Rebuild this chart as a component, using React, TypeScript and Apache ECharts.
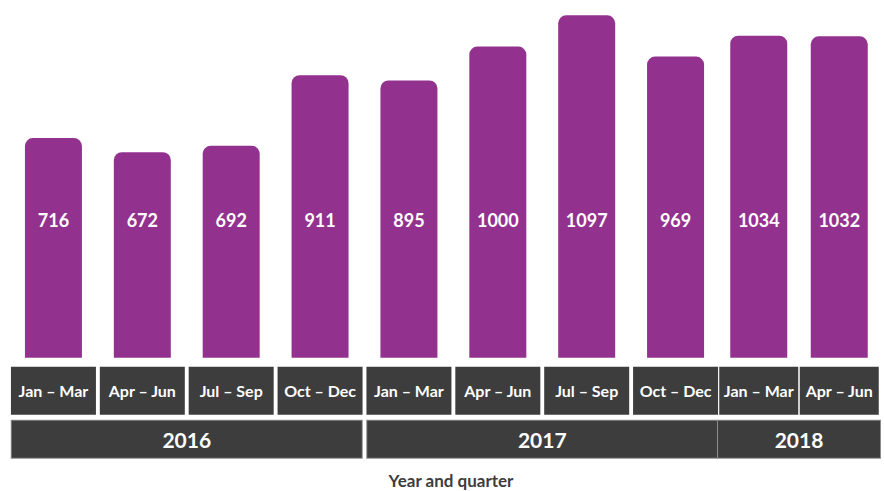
import React, { useEffect, useRef } from "react";
import * as echarts from "echarts";

const quarters1 = ["Jan – Mar", "Apr – Jun", "Jul – Sep", "Oct – Dec", "Jan – Mar", "Apr – Jun", "Jul – Sep", "Oct – Dec"];
const values1 = [716, 672, 692, 911, 895, 1000, 1097, 969];
const years1 = ["2016", "2017"];
const quarters2 = ["Jan – Mar", "Apr – Jun"];
const values2 = [1034, 1032];
const years2 = ["2018"];
const axisTitle = "Year and quarter";

const PURPLE = "#93328e";
const DARK = "#3d3d3d";
const FONT = "Lato, 'Noto Sans', sans-serif";

function quarterAxis(gridIndex: number, data: string[], w: number) {
  return {
    type: "category",
    gridIndex,
    data,
    position: "bottom",
    axisLine: { show: false },
    axisTick: { show: false },
    axisLabel: {
      interval: 0,
      margin: 9,
      color: "#fff",
      fontFamily: FONT,
      fontWeight: "bold",
      fontSize: 16,
      backgroundColor: DARK,
      width: w,
      height: 48,
      lineHeight: 48,
      align: "center",
      verticalAlign: "top",
    },
  };
}

function yearAxis(gridIndex: number, data: string[], w: number) {
  return {
    type: "category",
    gridIndex,
    data,
    position: "bottom",
    offset: 54,
    axisLine: { show: false },
    axisTick: { show: false },
    axisLabel: {
      interval: 0,
      margin: 9,
      color: "#fff",
      fontFamily: FONT,
      fontWeight: "bold",
      fontSize: 21,
      backgroundColor: DARK,
      borderColor: "#8c8c8c",
      borderWidth: 1,
      width: w,
      height: 37,
      lineHeight: 37,
      align: "center",
      verticalAlign: "top",
    },
  };
}

function barSeries(xAxisIndex: number, yAxisIndex: number, data: number[]) {
  return {
    type: "bar",
    xAxisIndex,
    yAxisIndex,
    data,
    barWidth: 57,
    itemStyle: { color: PURPLE, borderRadius: [8, 8, 0, 0] },
    label: {
      show: true,
      position: "insideBottom",
      distance: 129,
      color: "#fff",
      fontFamily: FONT,
      fontWeight: "bold",
      fontSize: 18,
    },
  };
}

export default function App() {
  const ref = useRef<HTMLDivElement>(null);
  useEffect(() => {
    if (!ref.current) return;
    const chart = echarts.init(ref.current, undefined, { renderer: "svg" });
    const yAxisBase = {
      type: "value",
      min: 34,
      max: 1100,
      show: false,
      splitLine: { show: false },
    };
    chart.setOption({
      animation: false,
      backgroundColor: "#fff",
      graphic: [
        {
          type: "text",
          x: 451,
          y: 480,
          style: {
            text: axisTitle,
            fontFamily: FONT,
            fontWeight: "bold",
            fontSize: 17,
            fill: DARK,
            align: "center",
            verticalAlign: "middle",
          },
        },
      ],
      grid: [
        { left: 9, width: 711, top: 14.4, bottom: 133.3 },
        { left: 718.5, width: 164, top: 14.4, bottom: 133.3 },
      ],
      xAxis: [
        quarterAxis(0, quarters1, 85),
        yearAxis(0, years1, 350),
        quarterAxis(1, quarters2, 79),
        yearAxis(1, years2, 162),
      ],
      yAxis: [
        { ...yAxisBase, gridIndex: 0 },
        { ...yAxisBase, gridIndex: 1 },
      ],
      series: [barSeries(0, 0, values1), barSeries(2, 1, values2)],
    });
    return () => chart.dispose();
  }, []);
  return <div ref={ref} style={{ position: "fixed", left: 0, top: 0, width: 884, height: 491 }} />;
}
